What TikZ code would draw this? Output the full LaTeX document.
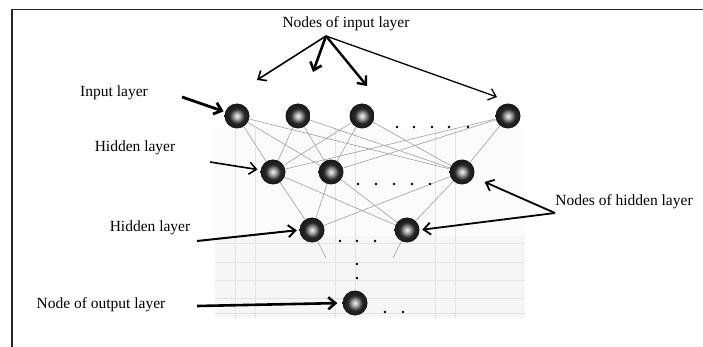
\documentclass[tikz,border=0pt]{standalone}
\usepackage{fontspec}
\setmainfont{Liberation Serif}
\usetikzlibrary{arrows.meta}
\pgfdeclarelayer{bg}
\pgfsetlayers{bg,main}
\pgfdeclareradialshading{ringshade}{\pgfpoint{0bp}{0bp}}{color(0bp)=(white!90!gray); color(5bp)=(gray!55); color(15bp)=(black!85); color(40bp)=(black); color(47bp)=(black!85); color(50bp)=(black!60)}
\tikzset{
  neuron/.style={circle, minimum size=25pt, inner sep=0pt, shading=ringshade},
  lbl/.style={font=\fontsize{15.5}{18}\selectfont, inner sep=0pt},
  link/.style={draw=gray!75, line width=0.6pt},
  arr/.style={-{Straight Barb[length=7pt,width=12pt]}, line width=#1, black},
  arr/.default=1.5pt,
  dotmark/.style={fill=black},
  gridln/.style={draw=gray!22, line width=0.5pt}
}
\begin{document}
\begin{tikzpicture}[x=1pt,y=-1pt]
\useasboundingbox (0,0) rectangle (703,347);
% frame (top and left edges)
\draw[line width=1.6pt, black!85] (703,9.5) -- (12,9.5) -- (12,347);

% scanned grid background
\begin{pgfonlayer}{bg}
  \fill[gray!3] (215,128) rectangle (525,236);
  \fill[gray!7] (215,236) rectangle (525,318);
  \foreach \gx in {235,255,335,355,435,455}
    \draw[gridln] (\gx,128) -- (\gx,318);
  \foreach \gy in {243,262,280,298,313}
    \draw[gridln] (215,\gy) -- (525,\gy);
\end{pgfonlayer}

% nodes
\node[neuron] (i1) at (237,116) {};
\node[neuron] (i2) at (298,116) {};
\node[neuron] (i3) at (362,116) {};
\node[neuron] (i4) at (508,116) {};
\node[neuron] (h1) at (273,172) {};
\node[neuron] (h2) at (331,172) {};
\node[neuron] (h3) at (462,172) {};
\node[neuron] (g1) at (312,230) {};
\node[neuron] (g2) at (407,230) {};
\node[neuron] (o1) at (355,303) {};

% connections
\begin{pgfonlayer}{bg}
  \foreach \a in {i1,i2,i3,i4}
    \foreach \b in {h1,h2,h3}
      \draw[link] (\a) -- (\b);
  \foreach \a in {h1,h2,h3}
    \foreach \b in {g1,g2}
      \draw[link] (\a) -- (\b);
  \coordinate (s1) at (326,258);
  \coordinate (s2) at (393,258);
  \draw[link] (g1) -- (s1);
  \draw[link] (g2) -- (s2);
\end{pgfonlayer}

% dots
\foreach \dx in {397,414,432,449,468} \fill[dotmark] (\dx,127) circle (1.3pt);
\foreach \dx in {358,376,394,412,430} \fill[dotmark] (\dx,184) circle (1.3pt);
\foreach \dx in {340,357,375} \fill[dotmark] (\dx,241) circle (1.3pt);
\foreach \dy in {264,278} \fill[dotmark] (357,\dy) circle (1.3pt);
\foreach \dx in {385,403} \fill[dotmark] (\dx,312) circle (1.3pt);

% labels
\node[lbl] (tIn) at (346,24) {Nodes of input layer};
\node[lbl] (tIL) at (114,93) {Input layer};
\node[lbl] (tH1) at (135,148) {Hidden layer};
\node[lbl] (tH2) at (150,228) {Hidden layer};
\node[lbl] (tOut) at (101,305) {Node of output layer};
\node[lbl] (tHid) at (624,202) {Nodes of hidden layer};

% arrows from "Nodes of input layer"
\coordinate (nin) at (326,36);
\coordinate (p1) at (257,80);
\coordinate (p2) at (313,72);
\coordinate (p3) at (367,86);
\coordinate (p4) at (497,97);
\draw[arr=1.6pt] (nin) -- (p1);
\draw[arr=2.6pt] (nin) -- (p2);
\draw[arr=2.4pt] (nin) -- (p3);
\draw[arr=1.3pt] (nin) -- (p4);

% arrows to layers
\coordinate (aIL) at (182,97);
\coordinate (aH1) at (210,162);
\coordinate (aH2) at (197,241);
\coordinate (aOut) at (197,306);
\draw[arr=2.8pt, shorten >=1.5pt] (aIL) -- (i1);
\draw[arr=1.6pt, shorten >=3pt] (aH1) -- (h1);
\draw[arr=2pt, shorten >=2.5pt] (aH2) -- (g1.west);
\draw[arr=2.6pt, shorten >=5pt] (aOut) -- (o1.west);

% arrows from "Nodes of hidden layer"
\coordinate (nhd) at (555,213);
\draw[arr=1.8pt, shorten >=12pt] (nhd) -- (h3);
\draw[arr=1.8pt, shorten >=2.5pt] (nhd) -- (g2.east);
\end{tikzpicture}
\end{document}
